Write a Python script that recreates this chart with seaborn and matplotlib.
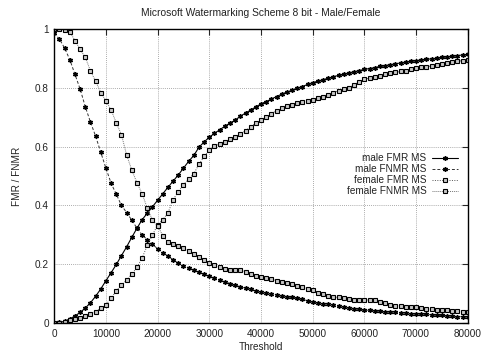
import numpy as np
import pandas as pd
import matplotlib
matplotlib.use("Agg")
import matplotlib.pyplot as plt
import seaborn as sns

# Thresholds (step 1000)
threshold = list(range(0, 80001, 1000))

male_fmr = [0.0, 0.003, 0.007, 0.015, 0.025, 0.037, 0.052, 0.07, 0.092, 0.117,
            0.145, 0.172, 0.2, 0.23, 0.26, 0.292, 0.323, 0.352, 0.374, 0.396,
            0.418, 0.44, 0.462, 0.483, 0.504, 0.527, 0.55, 0.57, 0.598, 0.616,
            0.632, 0.645, 0.657, 0.669, 0.68, 0.69, 0.703, 0.714, 0.724, 0.735,
            0.745, 0.753, 0.761, 0.77, 0.778, 0.785, 0.791, 0.798, 0.804, 0.811,
            0.817, 0.822, 0.827, 0.832, 0.837, 0.842, 0.846, 0.85, 0.854, 0.858,
            0.862, 0.865, 0.868, 0.872, 0.875, 0.878, 0.881, 0.884, 0.887, 0.89,
            0.892, 0.894, 0.896, 0.898, 0.9, 0.903, 0.905, 0.907, 0.909, 0.911,
            0.913]

male_fnmr = [0.985, 0.965, 0.934, 0.895, 0.845, 0.795, 0.735, 0.683, 0.635, 0.58,
             0.526, 0.475, 0.438, 0.40, 0.376, 0.35, 0.323, 0.30, 0.284, 0.268,
             0.253, 0.24, 0.228, 0.216, 0.205, 0.196, 0.188, 0.18, 0.173, 0.166,
             0.16, 0.153, 0.147, 0.141, 0.135, 0.129, 0.124, 0.119, 0.115, 0.111,
             0.107, 0.104, 0.101, 0.097, 0.094, 0.091, 0.088, 0.085, 0.081, 0.077,
             0.073, 0.07, 0.067, 0.064, 0.061, 0.058, 0.056, 0.053, 0.05, 0.048,
             0.045, 0.044, 0.042, 0.041, 0.04, 0.038, 0.037, 0.036, 0.035, 0.033,
             0.032, 0.031, 0.03, 0.029, 0.028, 0.027, 0.026, 0.025, 0.023, 0.022,
             0.02]

female_fmr = [0.0, 0.002, 0.005, 0.011, 0.014, 0.017, 0.025, 0.032, 0.04, 0.052,
              0.063, 0.086, 0.11, 0.13, 0.147, 0.167, 0.19, 0.222, 0.265, 0.3,
              0.334, 0.352, 0.375, 0.42, 0.447, 0.47, 0.49, 0.508, 0.54, 0.567,
              0.587, 0.601, 0.609, 0.616, 0.625, 0.632, 0.642, 0.654, 0.667, 0.68,
              0.69, 0.7, 0.712, 0.722, 0.73, 0.737, 0.742, 0.748, 0.752, 0.755,
              0.758, 0.766, 0.77, 0.775, 0.783, 0.79, 0.795, 0.8, 0.81, 0.82,
              0.829, 0.832, 0.835, 0.84, 0.845, 0.85, 0.852, 0.855, 0.858, 0.863,
              0.866, 0.869, 0.871, 0.874, 0.876, 0.879, 0.883, 0.886, 0.889, 0.892,
              0.894]

female_fnmr = [1.0, 1.0, 0.996, 0.99, 0.96, 0.93, 0.903, 0.857, 0.822, 0.783,
               0.755, 0.724, 0.68, 0.64, 0.571, 0.52, 0.477, 0.44, 0.39, 0.351,
               0.33, 0.298, 0.275, 0.268, 0.262, 0.255, 0.245, 0.234, 0.226, 0.216,
               0.206, 0.197, 0.19, 0.185, 0.182, 0.181, 0.18, 0.175, 0.168, 0.162,
               0.157, 0.154, 0.151, 0.145, 0.14, 0.136, 0.132, 0.127, 0.122, 0.117,
               0.112, 0.104, 0.098, 0.092, 0.089, 0.088, 0.085, 0.082, 0.08, 0.079,
               0.079, 0.079, 0.078, 0.074, 0.069, 0.063, 0.06, 0.058, 0.056, 0.056,
               0.056, 0.052, 0.048, 0.047, 0.046, 0.045, 0.044, 0.043, 0.042, 0.04,
               0.039]

series_names = ["male FMR MS", "male FNMR MS", "female FMR MS", "female FNMR MS"]
x_ticks = list(range(0, 80001, 10000))
y_ticks = [0, 0.2, 0.4, 0.6, 0.8, 1.0]
y_tick_labels = ["0", "0.2", "0.4", "0.6", "0.8", "1"]

sns.set_style("white")
plt.rcParams["font.family"] = ["Liberation Sans", "DejaVu Sans"]

fig = plt.figure(figsize=(4.82, 3.58), dpi=100)
ax = fig.add_axes([0.1127, 0.0969, 0.8576, 0.8227])

star = (6, 2, 0)  # asterisk-like point
styles = {
    "male FMR MS": dict(linestyle="-", marker=star, markersize=3.4,
                        mew=1.0, mec="black", mfc="black", color="black", lw=0.8),
    "male FNMR MS": dict(linestyle=(0, (3, 2)), marker=star, markersize=3.4,
                         mew=1.0, mec="black", mfc="black", color="#333333", lw=0.7),
    "female FMR MS": dict(linestyle=(0, (1, 1.5)), marker="s", markersize=3.3,
                          mew=0.8, mec="black", mfc="#c8c8c8", color="#555555", lw=0.7),
    "female FNMR MS": dict(linestyle=(0, (1, 1)), marker="s", markersize=3.3,
                           mew=0.8, mec="black", mfc="#c8c8c8", color="#777777", lw=0.7),
}

values = [male_fmr, male_fnmr, female_fmr, female_fnmr]
for name, vals in zip(series_names, values):
    df = pd.DataFrame({"Threshold": threshold, "value": vals})
    st = styles[name]
    sns.lineplot(data=df, x="Threshold", y="value", ax=ax, label=name,
                 color=st["color"], linestyle=st["linestyle"], lw=st["lw"],
                 marker=st["marker"], markersize=st["markersize"],
                 markeredgewidth=st["mew"], markeredgecolor=st["mec"],
                 markerfacecolor=st["mfc"])

ax.set_xlim(0, 80000)
ax.set_ylim(0, 1)
ax.set_xticks(x_ticks)
ax.set_yticks(y_ticks)
ax.set_yticklabels(y_tick_labels)
ax.grid(True, linestyle=(0, (1, 1.5)), color="#909090", linewidth=0.6)
ax.tick_params(direction="in", length=4, width=0.8, labelsize=7.2,
               top=True, right=True, pad=4, labelcolor="#222222")
for sp in ax.spines.values():
    sp.set_color("black")
    sp.set_linewidth(1.0)

ax.set_xlabel("Threshold", fontsize=7.2, labelpad=2, color="#222222")
ax.set_ylabel("FMR / FNMR", fontsize=7.2, labelpad=9, color="#222222")
ax.set_title("Microsoft Watermarking Scheme 8 bit - Male/Female", fontsize=7.4,
             pad=9, color="#222222")

leg = ax.legend(loc="center right", bbox_to_anchor=(0.99, 0.505), frameon=False,
                markerfirst=False, fontsize=7.2, handlelength=2.6,
                labelspacing=0.1, handletextpad=0.5, borderaxespad=0.2)
for t in leg.get_texts():
    t.set_color("#222222")

fig.savefig("out.png", dpi=100)
